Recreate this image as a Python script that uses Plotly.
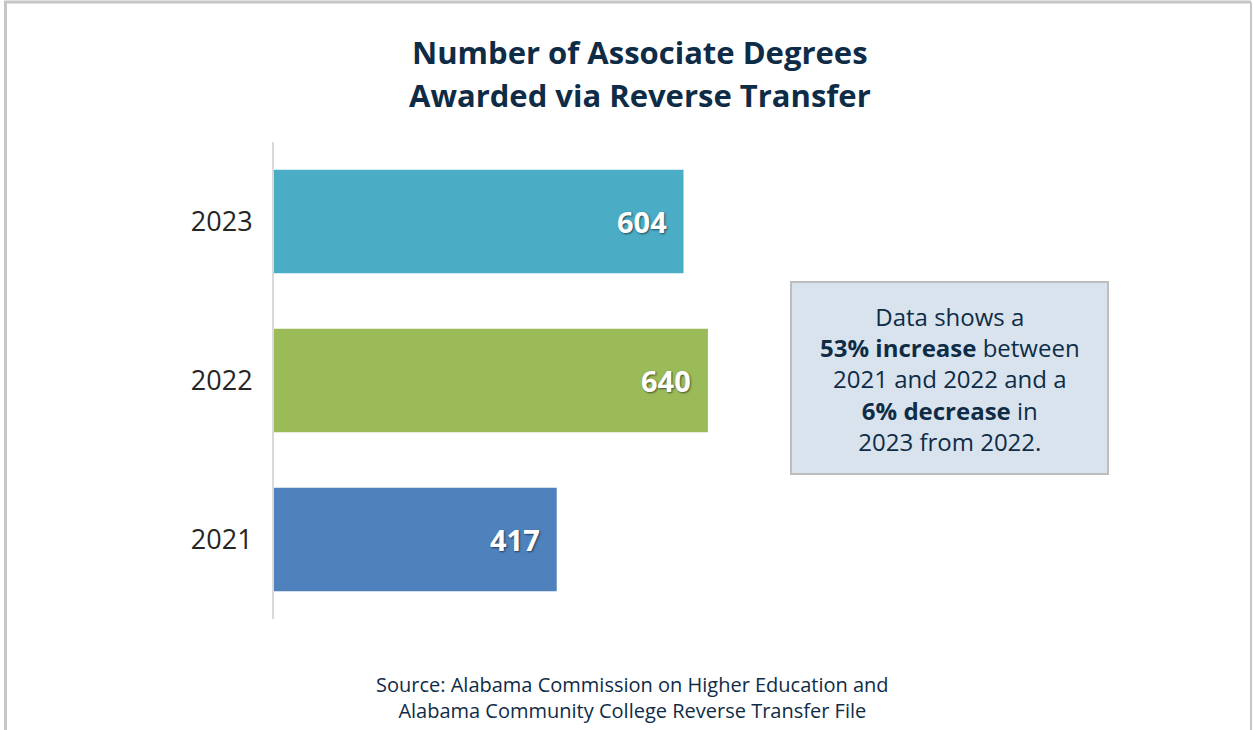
import plotly.graph_objects as go

years = ["2021", "2022", "2023"]
degrees = [417, 640, 604]
bar_colors = ["#4F81BD", "#9BBB59", "#4BACC6"]
title_lines = ["Number of Associate Degrees", "Awarded via Reverse Transfer"]
note_lines = [
    "Data shows a",
    "<b>53% increase</b> between",
    "2021 and 2022 and a",
    "<b>6% decrease</b> in",
    "2023 from 2022.",
]
source_lines = [
    "Source: Alabama Commission on Higher Education and",
    "Alabama Community College Reverse Transfer File",
]

W, H = 1253, 730
L, T, B = 274, 142, 111
XMAX = 1000
PLOT_W = 678
R = W - L - PLOT_W
PLOT_H = H - T - B

def px(x):
    return (x - L) / PLOT_W

def py(y):
    return (H - B - y) / PLOT_H

NAVY = "#0F2C46"
FONT = "Open Sans"

fig = go.Figure()
fig.add_trace(go.Bar(
    x=degrees, y=years, orientation="h",
    marker=dict(color=bar_colors, line=dict(width=0)),
    hoverinfo="skip",
))

for i, v in enumerate(degrees):
    fig.add_annotation(
        x=v, y=i, xref="x", yref="y", text=f"<b>{v}</b>",
        showarrow=False, xanchor="right", yanchor="middle", xshift=-15,
        font=dict(family=FONT, size=29, color="white",
                  shadow="1px 1px 2px rgba(0,0,0,0.55)"),
    )

# title
for line, yc in zip(title_lines, [52, 95]):
    fig.add_annotation(
        x=px(640), y=py(yc), xref="paper", yref="paper",
        text=line, showarrow=False,
        xanchor="center", yanchor="middle", align="center",
        font=dict(family=FONT, size=31, color=NAVY, weight=700),
    )

# note box
fig.add_shape(type="rect", xref="paper", yref="paper",
              x0=px(791), x1=px(1108), y0=py(474), y1=py(282),
              fillcolor="#D9E3EE", line=dict(color="#BDBDBD", width=2), layer="above")
fig.add_annotation(
    x=px(950), y=py(379), xref="paper", yref="paper",
    text="<br>".join(note_lines), showarrow=False,
    xanchor="center", yanchor="middle", align="center",
    font=dict(family=FONT, size=24, color=NAVY),
)

# source
fig.add_annotation(
    x=px(632), y=py(697), xref="paper", yref="paper",
    text="<br>".join(source_lines), showarrow=False,
    xanchor="center", yanchor="middle", align="center",
    font=dict(family=FONT, size=20, color=NAVY),
)

# outer border (top, left, right)
bc = "#C6C6C6"
fig.add_shape(type="line", xref="paper", yref="paper",
              x0=px(4), x1=px(1251), y0=py(2), y1=py(2), line=dict(color=bc, width=3))
fig.add_shape(type="line", xref="paper", yref="paper",
              x0=px(5.5), x1=px(5.5), y0=py(2), y1=py(731), line=dict(color=bc, width=3))
fig.add_shape(type="line", xref="paper", yref="paper",
              x0=px(1251), x1=px(1251), y0=py(2), y1=py(731), line=dict(color=bc, width=2))

fig.update_layout(
    width=W, height=H,
    margin=dict(l=L, r=R, t=T, b=B),
    paper_bgcolor="white", plot_bgcolor="white",
    bargap=0.35, showlegend=False,
    font=dict(family=FONT),
)
fig.update_xaxes(range=[0, XMAX], visible=False, fixedrange=True)
fig.update_yaxes(
    type="category", categoryorder="array", categoryarray=years,
    range=[-0.5, 2.5], showgrid=False, zeroline=False,
    showline=True, linecolor="#D9D9D9", linewidth=2,
    ticks="", ticklabelstandoff=14,
    tickfont=dict(family=FONT, size=27, color="#262626"),
    fixedrange=True,
)

fig.write_html("out.html", config={"displayModeBar": False},
               post_script="document.body.style.margin='0';document.body.style.padding='0';")
